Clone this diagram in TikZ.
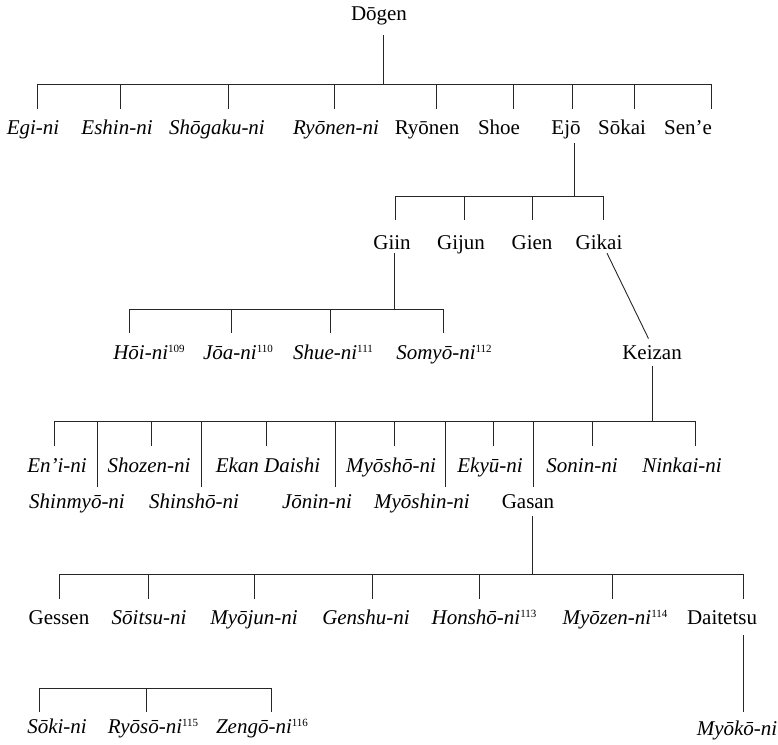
\documentclass[tikz,border=0pt]{standalone}
\usepackage{fontspec}
\setmainfont{Liberation Serif}
\newcommand{\fnum}[1]{\raisebox{6.5pt}{\upshape\fontsize{11}{11}\selectfont #1}}
\begin{document}
\begin{tikzpicture}[x=1pt,y=-1pt,
  lbl/.style={anchor=base,inner sep=0pt,text height=13pt,text depth=4pt,font=\fontsize{21}{24}\selectfont},
  it/.style={lbl,font=\fontsize{21}{24}\selectfont\itshape},
  ln/.style={line width=0.9pt,black!85}]
\useasboundingbox (0,0) rectangle (778,744);

% ---- labels ----
\node[lbl] (dogen) at (379,20) {Dōgen};

\node[it]  (egi)      at (33,134)  {Egi-ni};
\node[it]  (eshin)    at (117,134) {Eshin-ni};
\node[it]  (shogaku)  at (217,134) {Shōgaku-ni};
\node[it]  (ryonenni) at (336,134) {Ryōnen-ni};
\node[lbl] (ryonen)   at (427,134) {Ryōnen};
\node[lbl] (shoe)     at (499,134) {Shoe};
\node[lbl] (ejo)      at (566,134) {Ejō};
\node[lbl] (sokai)    at (622,134) {Sōkai};
\node[lbl] (sene)     at (688,134) {Sen’e};

\node[lbl] (giin)  at (392,249) {Giin};
\node[lbl] (gijun) at (461,249) {Gijun};
\node[lbl] (gien)  at (532,249) {Gien};
\node[lbl] (gikai) at (599,249) {Gikai};

\node[it]  (hoi)    at (149,359) {Hōi-ni\fnum{109}};
\node[it]  (joa)    at (238,359) {Jōa-ni\fnum{110}};
\node[it]  (shue)   at (333,359) {Shue-ni\fnum{111}};
\node[it]  (somyo)  at (444,359) {Somyō-ni\fnum{112}};
\node[lbl] (keizan) at (652,359) {Keizan};

\node[it] (enini)  at (57,472)  {En’i-ni};
\node[it] (shozen) at (149,472) {Shozen-ni};
\node[it] (ekan)   at (268,472) {Ekan Daishi};
\node[it] (myosho) at (391,472) {Myōshō-ni};
\node[it] (ekyu)   at (490,472) {Ekyū-ni};
\node[it] (sonin)  at (582,472) {Sonin-ni};
\node[it] (ninkai) at (682,472) {Ninkai-ni};

\node[it]  (shinmyo) at (77,508)  {Shinmyō-ni};
\node[it]  (shinsho) at (194,508) {Shinshō-ni};
\node[it]  (jonin)   at (317,508) {Jōnin-ni};
\node[it]  (myoshin) at (422,508) {Myōshin-ni};
\node[lbl] (gasan)   at (528,508) {Gasan};

\node[lbl] (gessen)   at (59,624)  {Gessen};
\node[it]  (soitsu)   at (149,624) {Sōitsu-ni};
\node[it]  (myojun)   at (254,624) {Myōjun-ni};
\node[it]  (genshu)   at (366,624) {Genshu-ni};
\node[it]  (honsho)   at (484,624) {Honshō-ni\fnum{113}};
\node[it]  (myozen)   at (615,624) {Myōzen-ni\fnum{114}};
\node[lbl] (daitetsu) at (722,624) {Daitetsu};

\node[it] (soki)  at (57,733)  {Sōki-ni};
\node[it] (ryoso) at (153,733) {Ryōsō-ni\fnum{115}};
\node[it] (zengo) at (262,733) {Zengō-ni\fnum{116}};
\node[it] (myoko) at (737,735) {Myōkō-ni};

% ---- Dogen's disciples ----
\coordinate (j0) at (383,84);
\foreach \n/\x in {a1/37,a2/120,a3/228,a4/334,a5/436,a6/513,a7/572,a8/634,a9/711}
  \coordinate (\n) at (\x,84);
\draw[ln,shorten <=11pt] (j0 |- dogen.south) -- (j0);
\draw[ln] (a1) -- (a9);
\foreach \c/\n in {a1/egi,a2/eshin,a3/shogaku,a4/ryonenni,a5/ryonen,a6/shoe,a7/ejo,a8/sokai,a9/sene}
  \draw[ln,shorten >=12pt] (\c) -- (\c |- \n.north);

% ---- Ejo's disciples ----
\coordinate (j1) at (574,196);
\foreach \n/\x in {b1/395,b2/464,b3/532,b4/603}
  \coordinate (\n) at (\x,196);
\draw[ln,shorten <=5pt] (j1 |- ejo.south) -- (j1);
\draw[ln] (b1) -- (b4);
\foreach \c/\n in {b1/giin,b2/gijun,b3/gien,b4/gikai}
  \draw[ln,shorten >=16pt] (\c) -- (\c |- \n.north);

% ---- Giin's disciples ----
\coordinate (j2) at (394,309);
\foreach \n/\x in {c1/129,c2/231,c3/330,c4/443}
  \coordinate (\n) at (\x,309);
\draw[ln] (j2 |- giin.south) -- (j2);
\draw[ln] (c1) -- (c4);
\foreach \c/\n in {c1/hoi,c2/joa,c3/shue,c4/somyo}
  \draw[ln,shorten >=13pt] (\c) -- (\c |- \n.north);

% ---- Gikai to Keizan ----
\draw[ln,shorten >=8pt] ([xshift=8pt]gikai.south) -- (keizan.north);

% ---- Keizan's disciples ----
\coordinate (j3) at (652,421);
\foreach \n/\x in {d1/54,d2/97,d3/151,d4/201,d5/266,d6/335,d7/394,d8/445,d9/493,d10/533,d11/592,d12/695}
  \coordinate (\n) at (\x,421);
\draw[ln,shorten <=3pt] (j3 |- keizan.south) -- (j3);
\draw[ln] (d1) -- (d12);
\foreach \c/\n in {d1/enini,d3/shozen,d5/ekan,d7/myosho,d9/ekyu,d11/sonin,d12/ninkai}
  \draw[ln,shorten >=13pt] (\c) -- (\c |- \n.north);
\foreach \c/\n in {d2/shinmyo,d4/shinsho,d6/jonin,d8/myoshin,d10/gasan}
  \draw[ln,shorten >=8pt] (\c) -- (\c |- \n.north);

% ---- Gasan's disciples ----
\coordinate (j4) at (532,574);
\foreach \n/\x in {e1/59,e2/148,e3/254,e4/372,e5/479,e6/612,e7/743}
  \coordinate (\n) at (\x,574);
\draw[ln,shorten <=4pt] (j4 |- gasan.south) -- (j4);
\draw[ln] (e1) -- (e7);
\foreach \c/\n in {e1/gessen,e2/soitsu,e3/myojun,e4/genshu,e5/honsho,e6/myozen,e7/daitetsu}
  \draw[ln,shorten >=12pt] (\c) -- (\c |- \n.north);

% ---- Daitetsu to Myoko-ni ----
\coordinate (j5) at (743,660);
\draw[ln,shorten <=7pt,shorten >=10pt] (j5 |- daitetsu.south) -- (j5 |- myoko.north);

% ---- bottom group ----
\foreach \n/\x in {f1/39,f2/146,f3/271}
  \coordinate (\n) at (\x,688);
\draw[ln] (f1) -- (f3);
\foreach \c/\n in {f1/soki,f2/ryoso,f3/zengo}
  \draw[ln,shorten >=8pt] (\c) -- (\c |- \n.north);
\end{tikzpicture}
\end{document}
